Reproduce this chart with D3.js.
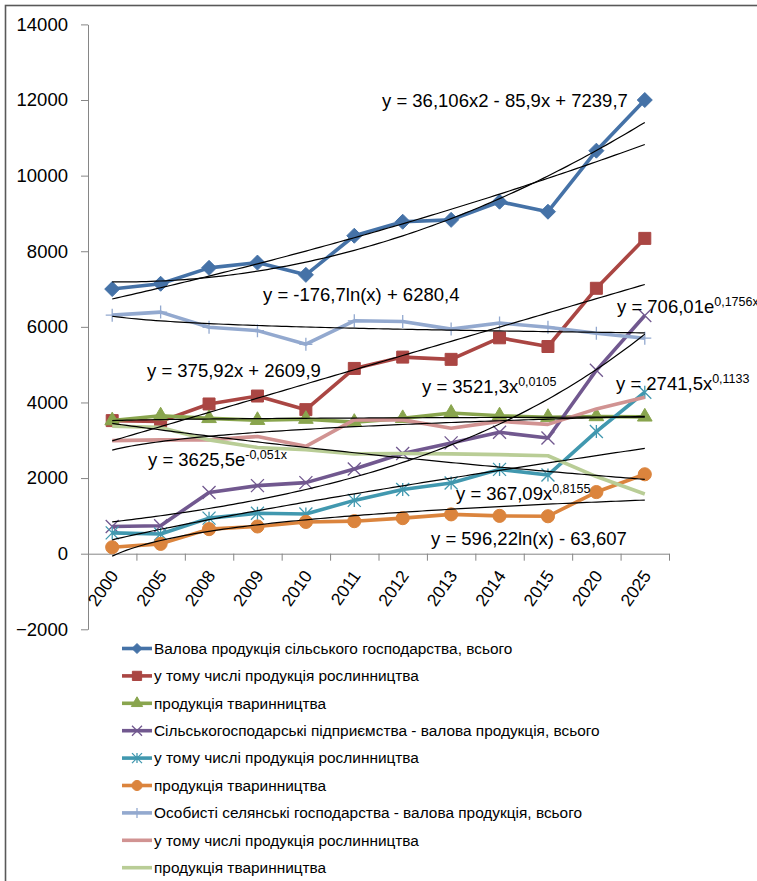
<!DOCTYPE html>
<html lang="uk">
<head>
    <meta charset="UTF-8">
    <title>Валова продукція сільського господарства</title>
    <script type="text/javascript" src="https://d3js.org/d3.v7.min.js"></script>
    <style>
        body { margin: 0; background: #fff; }
        svg { display: block; font-family: "Liberation Sans", Arial, sans-serif; }
        .axis path, .axis line { fill: none; stroke: #868686; stroke-width: 1; }
        .axis text { font-size: 18.5px; fill: #000; }
        .trend { fill: none; stroke: #000; stroke-width: 1.2; }
        .trend-label { font-size: 18.5px; fill: #000; }
        .legend text { font-size: 15.4px; fill: #000; }
    </style>
</head>
<body>
<script>
    /* ===== дані ===== */
    const years = ["2000", "2005", "2008", "2009", "2010", "2011", "2012", "2013", "2014", "2015", "2020", "2025"];

    const seriesNames = [
        "Валова продукція сільського господарства, всього",
        "у тому числі продукція рослинництва",
        "продукція тваринництва",
        "Сільськогосподарські підприємства - валова продукція, всього",
        "у тому числі продукція рослинництва",
        "продукція тваринництва",
        "Особисті селянські господарства - валова продукція, всього",
        "у тому числі продукція рослинництва",
        "продукція тваринництва"
    ];

    const totalAll   = [7000, 7140, 7560, 7700, 7375, 8410, 8780, 8830, 9310, 9045, 10660, 12000];
    const cropAll    = [3520, 3500, 3960, 4170, 3810, 4900, 5200, 5140, 5710, 5480, 7020, 8340];
    const animalAll  = [3520, 3650, 3580, 3530, 3560, 3480, 3580, 3720, 3650, 3610, 3630, 3620];
    const totalEnt   = [720, 740, 1620, 1800, 1880, 2240, 2650, 2930, 3210, 3060, 4850, 6300];
    const cropEnt    = [550, 520, 940, 1070, 1050, 1410, 1700, 1870, 2230, 2080, 3230, 4270];
    const animalEnt  = [170, 260, 650, 720, 840, 860, 940, 1040, 1000, 990, 1630, 2100];
    const totalHouse = [6310, 6390, 5990, 5900, 5540, 6160, 6140, 5940, 6100, 5990, 5830, 5700];
    const cropHouse  = [2990, 3010, 3010, 3100, 2840, 3540, 3540, 3320, 3500, 3420, 3830, 4140];
    const animalHouse = [3370, 3340, 3010, 2810, 2750, 2640, 2650, 2640, 2620, 2590, 2040, 1580];

    const seriesValues = [totalAll, cropAll, animalAll, totalEnt, cropEnt, animalEnt, totalHouse, cropHouse, animalHouse];

    const yTicks = [-2000, 0, 2000, 4000, 6000, 8000, 10000, 12000, 14000];

    /* лінії тренду: номер ряду, тип, коефіцієнти, підпис (основа + степінь) */
    const trendSeries = [0, 0, 1, 2, 3, 4, 5, 6, 7, 8];
    const trendKinds  = ["poly", "exp", "linear", "power", "exp", "power", "log", "log", "power", "exp"];
    const trendCoefs  = [
        [36.106, -85.9, 7239.7],
        [6453, 0.0431],
        [375.92, 2609.9],
        [3521.3, 0.0105],
        [706.01, 0.1756],
        [367.09, 0.8155],
        [596.22, -63.607],
        [-176.7, 6280.4],
        [2741.5, 0.1133],
        [3625.5, -0.051]
    ];
    const trendText = [
        ["y = 36,106x2 - 85,9x + 7239,7", ""],
        null,
        ["y = 375,92x + 2609,9", ""],
        ["y = 3521,3x", "0,0105"],
        ["y = 706,01e", "0,1756x"],
        ["y = 367,09x", "0,8155"],
        ["y = 596,22ln(x) - 63,607", ""],
        ["y = -176,7ln(x) + 6280,4", ""],
        ["y = 2741,5x", "0,1133"],
        ["y = 3625,5e", "-0,051x"]
    ];

    /* ===== оформлення ===== */
    const colors  = ["#4572A7", "#AA4643", "#89A54E", "#71588F", "#4198AF", "#DB843D", "#93A9CF", "#D19392", "#B9CD96"];
    const markers = ["diamond", "square", "triangle", "x", "star", "circle", "plus", null, null];
    const labelPos = [[382, 107], null, [147, 377], [422, 393], [617, 313], [456, 500], [431, 545], [263, 301], [616, 390], [148, 466]];

    const width = 757, height = 881;
    const plot = { left: 88, right: 669, top: 24.4, bottom: 629.3 };

    const svg = d3.select("body")
        .append("svg")
        .attr("width", width)
        .attr("height", height);

    svg.append("rect")
        .attr("width", width).attr("height", height)
        .attr("fill", "#fff");

    // рамка діаграми (виходить за межі кадру праворуч і знизу)
    svg.append("rect")
        .attr("x", 5.5).attr("y", 5.5)
        .attr("width", 820).attr("height", 920)
        .attr("fill", "none")
        .attr("stroke", "#595959")
        .attr("stroke-width", 1.6);

    /* ===== шкали ===== */
    const x = d3.scaleBand()
        .domain(years)
        .range([plot.left, plot.right])
        .padding(0);
    const xc = d => x(d) + x.bandwidth() / 2;

    // неперервна шкала для ліній тренду (x = 1..12, як в Excel)
    const xt = d3.scaleLinear()
        .domain([0.5, years.length + 0.5])
        .range([plot.left, plot.right]);

    const y = d3.scaleLinear()
        .domain([d3.min(yTicks), d3.max(yTicks)])
        .range([plot.bottom, plot.top]);

    /* ===== осі ===== */
    const yAxis = d3.axisLeft(y)
        .tickValues(yTicks)
        .tickSize(7)
        .tickSizeOuter(0)
        .tickPadding(13)
        .tickFormat(d3.format("d"));
    svg.append("g")
        .attr("class", "axis")
        .attr("transform", `translate(${plot.left}, 0)`)
        .call(yAxis);

    // вісь X перетинає Y у нулі; поділки між категоріями
    const xAxis = d3.axisBottom(xt)
        .tickValues(d3.range(0.5, years.length + 1, 1))
        .tickSize(7)
        .tickSizeOuter(0)
        .tickFormat("");
    svg.append("g")
        .attr("class", "axis")
        .attr("transform", `translate(0, ${y(0)})`)
        .call(xAxis);

    svg.append("g")
        .attr("class", "axis")
        .selectAll("text")
        .data(years)
        .enter()
        .append("text")
        .attr("text-anchor", "end")
        .style("font-size", "17.5px")
        .attr("transform", d => `translate(${xc(d) + 7}, ${y(0) + 22}) rotate(-55)`)
        .text(d => d);

    /* ===== маркери ===== */
    function markerPath(type, s) {
        const h = s / 2;
        if (type === "diamond") return `M0,${-h}L${h},0L0,${h}L${-h},0Z`;
        if (type === "square") return d3.symbol(d3.symbolSquare, s * s * 0.85)();
        if (type === "triangle") return d3.symbol(d3.symbolTriangle, s * s * 0.55)();
        if (type === "circle") return d3.symbol(d3.symbolCircle, s * s * 0.8)();
        if (type === "x") return `M${-h},${-h}L${h},${h}M${-h},${h}L${h},${-h}`;
        if (type === "star") return `M${-h},${-h}L${h},${h}M${-h},${h}L${h},${-h}M0,${-h}L0,${h}`;
        if (type === "plus") return `M${-h},0L${h},0M0,${-h}L0,${h}`;
        return null;
    }
    const filledMarker = t => ["diamond", "square", "triangle", "circle"].includes(t);

    function drawMarker(g, type, color, cx, cy, s) {
        const p = markerPath(type, s);
        if (!p) return;
        g.append("path")
            .attr("d", p)
            .attr("transform", `translate(${cx}, ${cy})`)
            .attr("fill", filledMarker(type) ? color : "none")
            .attr("stroke", color)
            .attr("stroke-width", filledMarker(type) ? 1 : 1.3);
    }

    /* ===== ряди ===== */
    const line = d3.line()
        .x((d, i) => xc(years[i]))
        .y(d => y(d));

    const seriesG = svg.append("g");
    seriesValues.forEach((vals, k) => {
        const g = seriesG.append("g");
        g.append("path")
            .datum(vals)
            .attr("d", line)
            .attr("fill", "none")
            .attr("stroke", colors[k])
            .attr("stroke-width", 3.6)
            .attr("stroke-linejoin", "round");
        const size = markers[k] === "diamond" ? 15 : 13;
        vals.forEach((v, i) => drawMarker(g, markers[k], colors[k], xc(years[i]), y(v), size));
    });

    /* ===== лінії тренду ===== */
    function trendFn(kind, c) {
        if (kind === "poly") return t => c[0] * t * t + c[1] * t + c[2];
        if (kind === "linear") return t => c[0] * t + c[1];
        if (kind === "exp") return t => c[0] * Math.exp(c[1] * t);
        if (kind === "power") return t => c[0] * Math.pow(t, c[1]);
        if (kind === "log") return t => c[0] * Math.log(t) + c[1];
    }
    const steps = d3.range(1, years.length + 0.001, 0.1);
    const trendLine = d3.line()
        .x(d => xt(d[0]))
        .y(d => y(d[1]));

    const trendG = svg.append("g");
    trendKinds.forEach((kind, j) => {
        const f = trendFn(kind, trendCoefs[j]);
        trendG.append("path")
            .attr("class", "trend")
            .attr("d", trendLine(steps.map(t => [t, f(t)])));
    });

    trendText.forEach((txt, j) => {
        if (!txt) return;
        const t = trendG.append("text")
            .attr("class", "trend-label")
            .attr("x", labelPos[j][0])
            .attr("y", labelPos[j][1]);
        t.append("tspan").text(txt[0]);
        if (txt[1]) {
            t.append("tspan")
                .attr("dy", -7)
                .style("font-size", "12.5px")
                .text(txt[1]);
        }
    });

    /* ===== легенда ===== */
    const legend = svg.append("g").attr("class", "legend");
    seriesNames.forEach((name, k) => {
        const cy = 648.5 + k * 27.4;
        const g = legend.append("g");
        g.append("line")
            .attr("x1", 122).attr("x2", 152)
            .attr("y1", cy).attr("y2", cy)
            .attr("stroke", colors[k])
            .attr("stroke-width", 3.6);
        drawMarker(g, markers[k], colors[k], 137, cy, 10);
        g.append("text")
            .attr("x", 154)
            .attr("y", cy)
            .attr("dy", "0.35em")
            .text(name);
    });
</script>
</body>
</html>
